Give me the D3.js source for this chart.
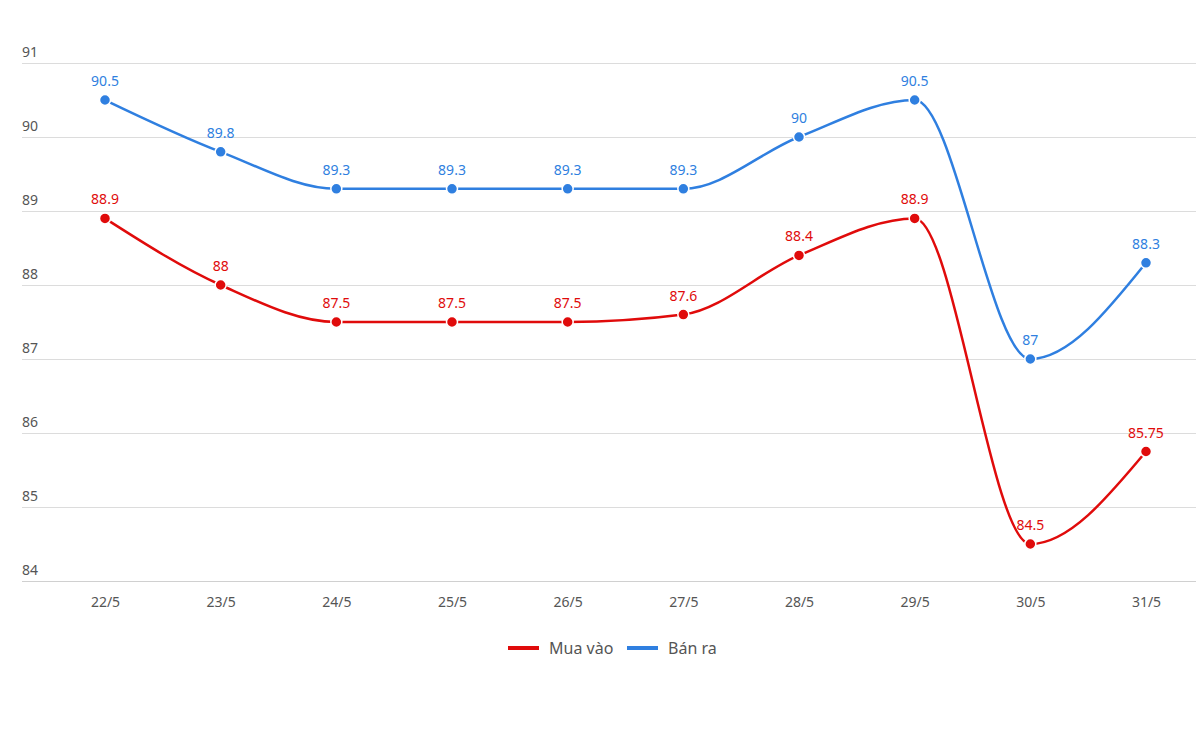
<!DOCTYPE html>
<html><head><meta charset="utf-8">
<script src="https://cdn.jsdelivr.net/npm/d3@7"></script>
<style>body{margin:0;background:#fff;}svg{display:block;font-family:"Noto Sans","Open Sans",sans-serif;}</style>
</head><body><svg id="c" width="1196" height="732"></svg>
<script>
const categories = ["22/5","23/5","24/5","25/5","26/5","27/5","28/5","29/5","30/5","31/5"];
const buyValues = [88.9,88,87.5,87.5,87.5,87.6,88.4,88.9,84.5,85.75];
const sellValues = [90.5,89.8,89.3,89.3,89.3,89.3,90,90.5,87,88.3];
const yTicks = [84,85,86,87,88,89,90,91];
const seriesNames = ["Mua vào","Bán ra"];
const colors = ["#e00b0b","#2f7fe0"];

const svg = d3.select("#c");
const x = d3.scalePoint().domain(categories).range([105,1146]);
const y = d3.scaleLinear().domain([84,91]).range([581,63]);

// grid
const g = svg.append("g");
g.selectAll("line").data(yTicks).join("line")
  .attr("x1",22).attr("x2",1196)
  .attr("y1",d=>y(d)+0.5).attr("y2",d=>y(d)+0.5)
  .attr("stroke",d=>d===84?"#d0d0d0":"#dcdcdc").attr("stroke-width",1);
g.selectAll("text").data(yTicks).join("text")
  .attr("x",22).attr("y",d=>y(d)-6)
  .attr("fill","#555").attr("font-size",14).text(d=>d);

// x axis labels
const xa = svg.append("g").attr("transform","translate(0,581)")
  .call(d3.axisBottom(x).tickSize(0).tickPadding(16));
xa.select(".domain").remove();
xa.selectAll("text").attr("fill","#555").attr("font-size",14).attr("font-family","Noto Sans, Open Sans, sans-serif");

const series = [buyValues, sellValues];
const line = d3.line().x((d,i)=>x(categories[i])).y(d=>y(d)).curve(d3.curveMonotoneX);

series.forEach((vals,si)=>{
  const s = svg.append("g");
  s.append("path").attr("d",line(vals)).attr("fill","none")
    .attr("stroke",colors[si]).attr("stroke-width",2.5);
  s.selectAll("circle").data(vals).join("circle")
    .attr("cx",(d,i)=>x(categories[i])).attr("cy",d=>y(d)).attr("r",5.5)
    .attr("fill",colors[si]).attr("stroke","#fff").attr("stroke-width",1.5);
  s.selectAll("text").data(vals).join("text")
    .attr("x",(d,i)=>x(categories[i])).attr("y",d=>y(d)-14)
    .attr("text-anchor","middle").attr("fill",colors[si]).attr("font-size",14)
    .text(d=>d);
});

// legend
const legendX = [508,627];
const lg = svg.append("g");
seriesNames.forEach((n,i)=>{
  lg.append("line").attr("x1",legendX[i]).attr("x2",legendX[i]+31)
    .attr("y1",648).attr("y2",648).attr("stroke",colors[i]).attr("stroke-width",4);
  lg.append("text").attr("x",legendX[i]+41).attr("y",654)
    .attr("fill","#555").attr("font-size",16).text(n);
});
</script></body></html>
